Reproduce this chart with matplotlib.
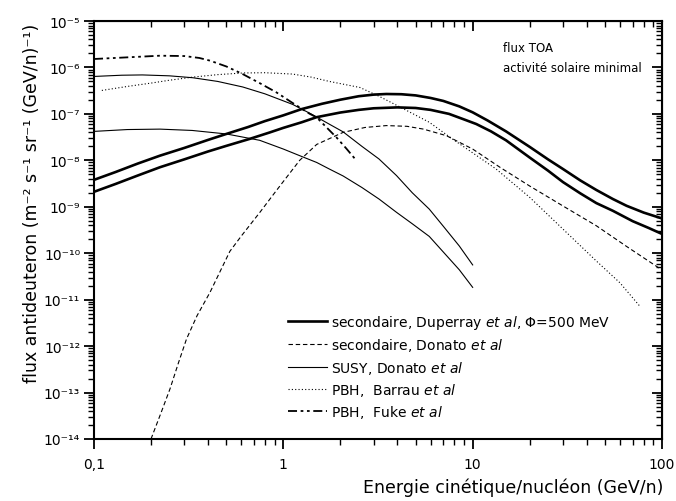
import matplotlib
matplotlib.use("Agg")
import matplotlib.pyplot as plt
from matplotlib.ticker import LogLocator, FixedLocator, FixedFormatter, NullFormatter

plt.rcParams['font.family'] = ['DejaVu Sans']
plt.rcParams['mathtext.default'] = 'regular'

# --- data ---
dup_hi_E = [0.1, 0.13, 0.17, 0.223, 0.3, 0.4, 0.5, 0.65, 0.8, 1.0, 1.25, 1.6, 2.0, 2.5, 3.0, 3.5, 4.2, 5.0, 6.0, 7.0,
            8.5, 10, 12, 15, 20, 25, 30, 37, 45, 55, 65, 80, 100]
dup_hi_F = [3.8e-9, 5.6e-9, 8.5e-9, 1.26e-8, 1.85e-8, 2.75e-8, 3.7e-8, 5.2e-8, 7.0e-8, 9.3e-8, 1.27e-7, 1.65e-7, 2.02e-7,
            2.4e-7, 2.6e-7, 2.68e-7, 2.65e-7, 2.5e-7, 2.2e-7, 1.9e-7, 1.45e-7, 1.08e-7, 7.2e-8, 4.2e-8, 1.95e-8, 1.05e-8,
            6.5e-9, 3.7e-9, 2.3e-9, 1.47e-9, 1.05e-9, 7.5e-10, 5.6e-10]

dup_lo_E = [0.1, 0.13, 0.17, 0.223, 0.3, 0.4, 0.5, 0.665, 0.85, 1.0, 1.25, 1.5, 2.0, 2.5, 3.0, 4.0, 5.0, 6.0, 7.5, 9.0,
            10.45, 12.5, 15, 20, 25, 30, 37, 45, 55, 70, 85, 100]
dup_lo_F = [2.1e-9, 3.1e-9, 4.7e-9, 7.1e-9, 1.05e-8, 1.55e-8, 2.05e-8, 2.9e-8, 4.0e-8, 5.0e-8, 6.6e-8, 8.5e-8, 1.07e-7,
            1.22e-7, 1.32e-7, 1.38e-7, 1.34e-7, 1.22e-7, 1.0e-7, 7.6e-8, 6.05e-8, 4.2e-8, 2.7e-8, 1.15e-8, 6.0e-9, 3.4e-9,
            1.95e-9, 1.2e-9, 8.2e-10, 4.9e-10, 3.5e-10, 2.6e-10]

don_sec_E = [0.2, 0.225, 0.252, 0.28, 0.308, 0.35, 0.41, 0.46, 0.522, 0.6, 0.752, 0.9, 1.0, 1.22, 1.5, 2.07, 2.7, 3.5,
             4.5, 5.5, 7.26, 10, 14, 20, 30, 45, 65, 98]
don_sec_F = [1e-14, 3.5e-14, 1.2e-13, 4.5e-13, 1.42e-12, 4.5e-12, 1.44e-11, 3.8e-11, 1.1e-10, 2.35e-10, 7.6e-10, 2.0e-9,
             3.5e-9, 1.0e-8, 2.2e-8, 4.0e-8, 5.1e-8, 5.6e-8, 5.4e-8, 4.7e-8, 3.4e-8, 1.75e-8, 7.0e-9, 2.8e-9, 1.04e-9,
             3.9e-10, 1.4e-10, 4.6e-11]

susy_hi_E = [0.1, 0.14, 0.18, 0.25, 0.333, 0.45, 0.61, 0.8, 1.12, 1.4, 1.75, 2.07, 2.6, 3.2, 3.96, 4.8, 5.9, 7.0, 8.5, 10]
susy_hi_F = [6.4e-7, 6.8e-7, 6.9e-7, 6.6e-7, 6.0e-7, 5.0e-7, 3.8e-7, 2.7e-7, 1.6e-7, 1.0e-7, 6.0e-8, 4.1e-8, 2.0e-8,
             1.07e-8, 4.7e-9, 2.0e-9, 8.9e-10, 3.8e-10, 1.43e-10, 5.6e-11]

susy_lo_E = [0.1, 0.15, 0.223, 0.33, 0.5, 0.75, 1.0, 1.22, 1.5, 1.75, 2.07, 2.6, 3.2, 3.96, 4.8, 5.9, 7.0, 8.5, 10]
susy_lo_F = [4.2e-8, 4.6e-8, 4.7e-8, 4.4e-8, 3.7e-8, 2.7e-8, 1.75e-8, 1.26e-8, 9.0e-9, 6.5e-9, 4.6e-9, 2.6e-9, 1.47e-9,
             7.6e-10, 4.3e-10, 2.3e-10, 1.06e-10, 4.4e-11, 1.84e-11]

pbh_b_E = [0.11, 0.15, 0.2, 0.25, 0.333, 0.45, 0.61, 0.8, 1.12, 1.4, 1.75, 2.54, 3.2, 4.2, 5.9, 8.0, 10, 13.3, 20, 30,
           45, 60, 76]
pbh_b_F = [3.2e-7, 3.9e-7, 4.6e-7, 5.3e-7, 6.2e-7, 7.0e-7, 7.6e-7, 7.7e-7, 7.2e-7, 6.2e-7, 5.0e-7, 3.7e-7, 2.4e-7,
           1.36e-7, 6.6e-8, 2.7e-8, 1.45e-8, 6.5e-9, 1.6e-9, 3.3e-10, 6.8e-11, 2.3e-11, 7.4e-12]

pbh_f_E = [0.1, 0.15, 0.223, 0.3, 0.36, 0.41, 0.5, 0.61, 0.75, 0.92, 1.1, 1.38, 1.5, 1.91, 2.15, 2.38]
pbh_f_F = [1.52e-6, 1.65e-6, 1.79e-6, 1.76e-6, 1.6e-6, 1.4e-6, 1.05e-6, 7.2e-7, 4.6e-7, 2.9e-7, 1.8e-7, 1.0e-7, 8.4e-8,
           3.1e-8, 1.8e-8, 1.1e-8]

labels = ["secondaire, Duperray $\\it{et\\ al}$, $\\Phi$=500 MeV",
          "secondaire, Donato $\\it{et\\ al}$",
          "SUSY, Donato $\\it{et\\ al}$",
          "PBH,  Barrau $\\it{et\\ al}$",
          "PBH,  Fuke $\\it{et\\ al}$"]

xticks = [0.1, 1, 10, 100]
xticklabels = ["0,1", "1", "10", "100"]
yticks = [1e-14, 1e-13, 1e-12, 1e-11, 1e-10, 1e-9, 1e-8, 1e-7, 1e-6, 1e-5]
yticklabels = ["10⁻¹⁴", "10⁻¹³", "10⁻¹²", "10⁻¹¹", "10⁻¹⁰", "10⁻⁹", "10⁻⁸", "10⁻⁷", "10⁻⁶", "10⁻⁵"]

fig = plt.figure(figsize=(6.76, 5.02), dpi=100)
ax = fig.add_axes([94/676, 1 - 440/502, (662 - 94)/676, (440 - 22)/502])

thick = dict(color='black', lw=1.9)
thin = dict(color='black', lw=0.8)

l1, = ax.plot(dup_hi_E, dup_hi_F, **thick)
ax.plot(dup_lo_E, dup_lo_F, **thick)
l2, = ax.plot(don_sec_E, don_sec_F, ls=(0, (4, 2.5)), **thin)
l3, = ax.plot(susy_hi_E, susy_hi_F, **thin)
ax.plot(susy_lo_E, susy_lo_F, **thin)
l4, = ax.plot(pbh_b_E, pbh_b_F, ls=(0, (1, 2)), **thin)
l5, = ax.plot(pbh_f_E, pbh_f_F, ls=(0, (5, 2, 1.5, 2, 1.5, 2)), color='black', lw=1.3)

ax.set_xscale('log')
ax.set_yscale('log')
ax.set_xlim(0.1, 100)
ax.set_ylim(1e-14, 1e-5)

for s in ax.spines.values():
    s.set_linewidth(1.5)

ax.xaxis.set_major_locator(FixedLocator(xticks))
ax.xaxis.set_major_formatter(FixedFormatter(xticklabels))
ax.xaxis.set_minor_locator(LogLocator(base=10, subs=range(2, 10), numticks=20))
ax.xaxis.set_minor_formatter(NullFormatter())
ax.yaxis.set_major_locator(FixedLocator(yticks))
ax.yaxis.set_major_formatter(FixedFormatter(yticklabels))
ax.yaxis.set_minor_locator(LogLocator(base=10, subs=range(2, 10), numticks=20))
ax.yaxis.set_minor_formatter(NullFormatter())

ax.tick_params(which='major', direction='out', length=7, width=1.3, labelsize=10, pad=3)
ax.tick_params(axis='x', which='major', pad=6)
ax.tick_params(which='minor', direction='out', length=4, width=1.0)

# mirrored ticks on top/right pointing inward
axt = ax.secondary_xaxis('top')
axt.xaxis.set_major_locator(FixedLocator(xticks))
axt.xaxis.set_minor_locator(LogLocator(base=10, subs=range(2, 10), numticks=20))
axt.tick_params(which='major', direction='in', length=7, width=1.3, labeltop=False)
axt.tick_params(which='minor', direction='in', length=4, width=1.0)
axt.xaxis.set_major_formatter(NullFormatter())
axt.xaxis.set_minor_formatter(NullFormatter())
axr = ax.secondary_yaxis('right')
axr.yaxis.set_major_locator(FixedLocator(yticks))
axr.yaxis.set_minor_locator(LogLocator(base=10, subs=range(2, 10), numticks=20))
axr.tick_params(which='major', direction='in', length=7, width=1.3, labelright=False)
axr.tick_params(which='minor', direction='in', length=4, width=1.0)
axr.yaxis.set_major_formatter(NullFormatter())
axr.yaxis.set_minor_formatter(NullFormatter())

leg = fig.legend([l1, l2, l3, l4, l5], labels, loc='upper left', bbox_to_anchor=(288/676, 1 - 314/502),
                 frameon=False, fontsize=10, handlelength=2.8, handletextpad=0.3, labelspacing=0.38,
                 borderpad=0, borderaxespad=0)

fig.text(503/676, 1 - 49/502, "flux TOA", fontsize=8.5, va='center', ha='left')
fig.text(503/676, 1 - 69/502, "activité solaire minimal", fontsize=8.5, va='center', ha='left')

fig.text(32/676, 1 - 203/502, "flux antideuteron (m⁻² s⁻¹ sr⁻¹ (GeV/n)⁻¹)",
         rotation=90, ha='center', va='center', fontsize=12.5)
fig.text(663/676, 1 - 488/502, "Energie cinétique/nucléon (GeV/n)", ha='right', va='center', fontsize=12.5)

fig.savefig("out.png", dpi=100)
